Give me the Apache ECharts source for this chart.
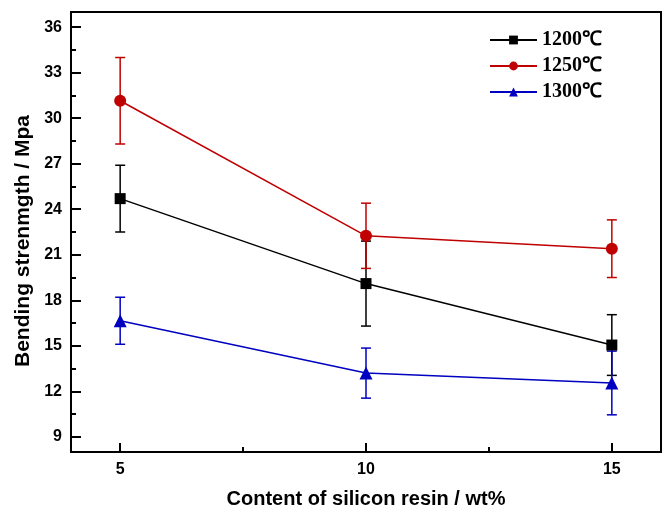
<!DOCTYPE html>
<html>
<head>
<meta charset="utf-8">
<script src="https://cdn.jsdelivr.net/npm/echarts@6/dist/echarts.min.js"></script>
<style>html,body{margin:0;padding:0;background:#fff;}#c{width:663px;height:509px;}</style>
</head>
<body>
<div id="c"></div>
<script>
var xValues = [5, 10, 15];
var s1200 = [24.7, 19.1, 15.05];
var e1200 = [2.2, 2.8, 2.0];
var s1250 = [31.15, 22.25, 21.4];
var e1250 = [2.85, 2.15, 1.9];
var s1300 = [16.65, 13.2, 12.55];
var e1300 = [1.55, 1.65, 2.1];
var names = ['1200℃', '1250℃', '1300℃'];
var colors = ['#000000', '#c00000', '#0000c0'];
var yMajor = [9, 12, 15, 18, 21, 24, 27, 30, 33, 36];
var yMinor = [10.5, 13.5, 16.5, 19.5, 22.5, 25.5, 28.5, 31.5, 34.5];
var xMajor = [5, 10, 15];
var xMinor = [7.5, 12.5];

var chart = echarts.init(document.getElementById('c'));

function pts(vals) { return xValues.map(function (x, i) { return [x, vals[i]]; }); }
function errData(vals, errs) { return xValues.map(function (x, i) { return [x, vals[i] - errs[i], vals[i] + errs[i]]; }); }

function errSeries(vals, errs, color) {
  return {
    type: 'custom',
    xAxisIndex: 0, yAxisIndex: 0,
    data: errData(vals, errs),
    z: 3,
    silent: true,
    renderItem: function (params, api) {
      var lo = api.coord([api.value(0), api.value(1)]);
      var hi = api.coord([api.value(0), api.value(2)]);
      var hw = 5;
      var st = { stroke: color, lineWidth: 1.5 };
      return {
        type: 'group',
        children: [
          { type: 'line', shape: { x1: lo[0], y1: lo[1], x2: hi[0], y2: hi[1] }, style: st },
          { type: 'line', shape: { x1: lo[0] - hw, y1: lo[1], x2: lo[0] + hw, y2: lo[1] }, style: st },
          { type: 'line', shape: { x1: hi[0] - hw, y1: hi[1], x2: hi[0] + hw, y2: hi[1] }, style: st }
        ]
      };
    }
  };
}

function lineSeries(name, vals, color, symbol, size) {
  return {
    name: name, type: 'line', data: pts(vals),
    xAxisIndex: 0, yAxisIndex: 0,
    symbol: symbol, symbolSize: size, showSymbol: true,
    lineStyle: { color: color, width: 1.5 },
    itemStyle: { color: color },
    z: 4
  };
}

var labelFont = { fontFamily: 'Liberation Sans, Arial', fontWeight: 'bold', fontSize: 16, color: '#000' };

var option = {
  backgroundColor: '#fff',
  animation: false,
  grid: { left: 71, right: 2, top: 12, bottom: 57, outerBoundsMode: 'none', containLabel: false, show: true, borderColor: '#000', borderWidth: 2, backgroundColor: 'transparent' },
  legend: {
    data: names,
    orient: 'vertical',
    left: 484, top: 25,
    itemWidth: 47, itemHeight: 11, itemGap: 6,
    textStyle: { fontFamily: 'Liberation Serif, Times New Roman', fontWeight: 'bold', fontSize: 20, color: '#000' }
  },
  xAxis: [
    {
      type: 'value', min: 4, max: 16, position: 'bottom',
      name: 'Content of silicon resin / wt%', nameLocation: 'middle', nameGap: 37,
      nameTextStyle: { fontFamily: 'Liberation Sans, Arial', fontWeight: 'bold', fontSize: 20, color: '#000' },
      axisLine: { show: true, lineStyle: { color: '#000', width: 2 } },
      axisTick: { show: true, inside: true, length: 9, lineStyle: { color: '#000', width: 2 }, customValues: xMajor },
      axisLabel: { show: true, margin: 10, customValues: xMajor, ...labelFont },
      splitLine: { show: false }
    },
    {
      type: 'value', min: 4, max: 16, position: 'bottom',
      axisLine: { show: false },
      axisTick: { show: true, inside: true, length: 5, lineStyle: { color: '#000', width: 2 }, customValues: xMinor },
      axisLabel: { show: false },
      splitLine: { show: false }
    }
  ],
  yAxis: [
    {
      type: 'value', min: 8, max: 37, position: 'left',
      name: 'Bending strenmgth / Mpa', nameLocation: 'middle', nameGap: 37, nameRotate: 90,
      nameTextStyle: { fontFamily: 'Liberation Sans, Arial', fontWeight: 'bold', fontSize: 21, color: '#000', padding: [0, 18, 0, 0] },
      axisLine: { show: true, lineStyle: { color: '#000', width: 2 } },
      axisTick: { show: true, inside: true, length: 10, lineStyle: { color: '#000', width: 2 }, customValues: yMajor },
      axisLabel: { show: true, margin: 9, customValues: yMajor, ...labelFont },
      splitLine: { show: false }
    },
    {
      type: 'value', min: 8, max: 37, position: 'left',
      axisLine: { show: false },
      axisTick: { show: true, inside: true, length: 5, lineStyle: { color: '#000', width: 2 }, customValues: yMinor },
      axisLabel: { show: false },
      splitLine: { show: false }
    }
  ],
  series: [
    errSeries(s1200, e1200, colors[0]),
    errSeries(s1250, e1250, colors[1]),
    errSeries(s1300, e1300, colors[2]),
    lineSeries(names[0], s1200, colors[0], 'rect', 11),
    lineSeries(names[1], s1250, colors[1], 'circle', 12),
    lineSeries(names[2], s1300, colors[2], 'triangle', 13)
  ]
};
chart.setOption(option);
</script>
</body>
</html>
